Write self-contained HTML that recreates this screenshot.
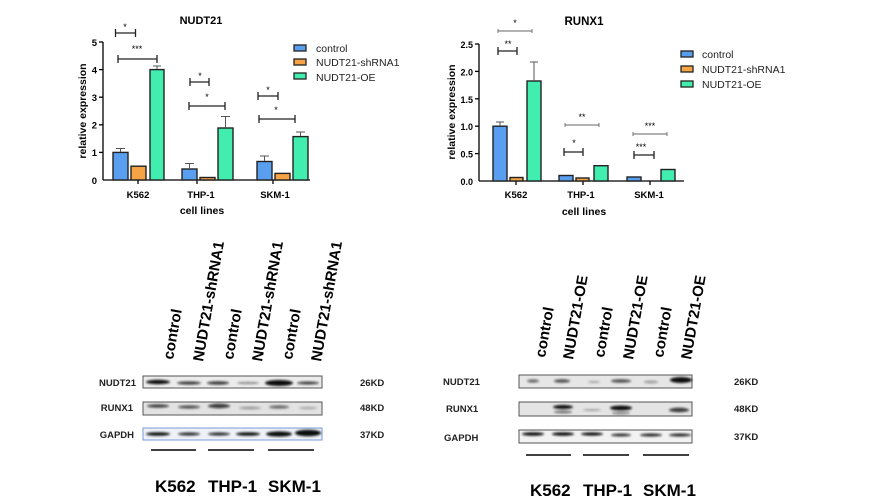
<!DOCTYPE html>
<html><head><meta charset="utf-8"><style>
html,body{margin:0;padding:0;background:#fff;width:872px;height:501px;overflow:hidden}
svg{display:block;font-family:"Liberation Sans",Arial,sans-serif}
</style></head><body>
<svg width="872" height="501" viewBox="0 0 872 501">
<defs>
<filter id="bl"><feGaussianBlur stdDeviation="1.1"/></filter>
</defs>
<!-- ===== Left chart NUDT21 ===== -->
<g font-weight="bold" fill="#000">
<text x="201" y="24" font-size="11" text-anchor="middle">NUDT21</text>
<g stroke="#000" stroke-width="1.3" fill="none">
<line x1="103" y1="42" x2="103" y2="180"/><line x1="103" y1="180" x2="310" y2="180"/>
<line x1="99" y1="42" x2="103" y2="42"/><line x1="99" y1="69.6" x2="103" y2="69.6"/><line x1="99" y1="97.2" x2="103" y2="97.2"/><line x1="99" y1="124.8" x2="103" y2="124.8"/><line x1="99" y1="152.4" x2="103" y2="152.4"/>
<line x1="138" y1="180" x2="138" y2="184"/><line x1="197" y1="180" x2="197" y2="184"/><line x1="273" y1="180" x2="273" y2="184"/>
</g>
<g font-size="9.5" text-anchor="end"><text x="97" y="46">5</text><text x="97" y="73.5">4</text><text x="97" y="101">3</text><text x="97" y="128.5">2</text><text x="97" y="156">1</text><text x="97" y="184">0</text></g>
<g font-size="9.5" text-anchor="middle"><text x="138" y="198">K562</text><text x="201" y="198">THP-1</text><text x="275" y="198">SKM-1</text>
<text x="202" y="214" font-size="10.5">cell lines</text></g>
<text transform="translate(86,111) rotate(-90)" font-size="10.5" text-anchor="middle">relative expression</text>
</g>
<!-- bars left -->
<g stroke="#222" stroke-width="1.4">
<rect x="113" y="152.4" width="15" height="27.6" fill="#5a9ef0"/>
<rect x="131" y="166.2" width="15" height="13.8" fill="#f5a345"/>
<rect x="150" y="69.6" width="14" height="110.4" fill="#41eeb0"/>
<rect x="182" y="169" width="15" height="11" fill="#5a9ef0"/>
<rect x="200" y="177.5" width="15" height="2.5" fill="#f5a345"/>
<rect x="218" y="128" width="15" height="52" fill="#41eeb0"/>
<rect x="257" y="161.5" width="15" height="18.5" fill="#5a9ef0"/>
<rect x="275" y="173.4" width="15" height="6.6" fill="#f5a345"/>
<rect x="293" y="136.6" width="15" height="43.4" fill="#41eeb0"/>
</g>
<g stroke="#555" stroke-width="1" fill="none">
<path d="M120.5 152v-3.5M116 148.5h9M157 69v-3M153 66h8M189.5 169v-5.5M185 163.5h9M225.5 128v-11.5M221 116.5h9M264.5 161v-5M260 156h9M300.5 136v-4M296 132h9"/>
</g>
<g stroke="#222" stroke-width="1.3" fill="none">
<path d="M115.5 33h20M115.5 29v8M135.5 29v8M118 59h39M118 55v8M157 55v8M190 82h19M190 78v8M209 78v8M189 106h36M189 102v8M225 102v8M258 96h20M258 92v8M278 92v8M259 119h36M259 115v8M295 115v8"/>
</g>
<g font-size="9" fill="#000" text-anchor="middle"><text x="125" y="30">*</text><text x="137" y="52">***</text><text x="200" y="79">*</text><text x="207" y="100">*</text><text x="268" y="93">*</text><text x="276" y="113">*</text></g>
<!-- legend left -->
<g stroke="#222" stroke-width="1.3"><rect x="294" y="45" width="12" height="6" fill="#5a9ef0"/><rect x="294" y="59" width="12" height="6" fill="#f5a345"/><rect x="294" y="73" width="12" height="6" fill="#41eeb0"/></g>
<g font-size="10.5" fill="#222"><text x="316" y="52">control</text><text x="316" y="66">NUDT21-shRNA1</text><text x="316" y="81">NUDT21-OE</text></g>

<!-- ===== Right chart RUNX1 ===== -->
<g font-weight="bold" fill="#000">
<text x="584" y="25" font-size="11.5" text-anchor="middle">RUNX1</text>
<g stroke="#000" stroke-width="1.3" fill="none">
<line x1="479" y1="44" x2="479" y2="181"/><line x1="479" y1="181" x2="684" y2="181"/>
<line x1="475" y1="44" x2="479" y2="44"/><line x1="475" y1="71.4" x2="479" y2="71.4"/><line x1="475" y1="98.8" x2="479" y2="98.8"/><line x1="475" y1="126.2" x2="479" y2="126.2"/><line x1="475" y1="153.6" x2="479" y2="153.6"/>
<line x1="516" y1="181" x2="516" y2="185"/><line x1="583" y1="181" x2="583" y2="185"/><line x1="650" y1="181" x2="650" y2="185"/>
</g>
<g font-size="9" text-anchor="end"><text x="473" y="48">2.5</text><text x="473" y="75.5">2.0</text><text x="473" y="103">1.5</text><text x="473" y="130">1.0</text><text x="473" y="157.5">0.5</text><text x="473" y="185">0.0</text></g>
<g font-size="9.5" text-anchor="middle"><text x="516" y="198">K562</text><text x="581" y="198">THP-1</text><text x="649" y="198">SKM-1</text>
<text x="584" y="215" font-size="10.5">cell lines</text></g>
<text transform="translate(455,112) rotate(-90)" font-size="10.5" text-anchor="middle">relative expression</text>
</g>
<g stroke="#222" stroke-width="1.4">
<rect x="493" y="126.2" width="14" height="54.8" fill="#5a9ef0"/>
<rect x="510" y="177.5" width="13" height="3.5" fill="#f5a345"/>
<rect x="527" y="81" width="14" height="100" fill="#41eeb0"/>
<rect x="559" y="175.5" width="14" height="5.5" fill="#5a9ef0"/>
<rect x="576" y="178" width="13" height="3" fill="#f5a345"/>
<rect x="594" y="165.7" width="14" height="15.3" fill="#41eeb0"/>
<rect x="627" y="177" width="14" height="4" fill="#5a9ef0"/>
<rect x="661" y="169.5" width="14" height="11.5" fill="#41eeb0"/>
</g>
<g stroke="#555" stroke-width="1" fill="none"><path d="M500 126v-4M496 122h8M534 81v-19M530 62h8"/></g>
<g stroke="#222" stroke-width="1.3" fill="none">
<path d="M498 51h19M498 47v8M517 47v8M564 152h19M564 148v8M583 148v8M634 155h20M634 151v8M654 151v8"/>
</g>
<g stroke="#666" stroke-width="0.9" fill="none">
<path d="M498 31h34M498 29v4M532 29v4M565 125h34M565 123v4M599 123v4M633 134h34M633 132v4M667 132v4"/>
</g>
<g font-size="9" fill="#000" text-anchor="middle"><text x="515" y="26">*</text><text x="508" y="47">**</text><text x="582" y="120">**</text><text x="574" y="146">*</text><text x="650" y="129">***</text><text x="641" y="150">***</text></g>
<g stroke="#222" stroke-width="1.3"><rect x="681" y="51" width="12" height="6" fill="#5a9ef0"/><rect x="681" y="66" width="12" height="6" fill="#f5a345"/><rect x="681" y="81" width="12" height="6" fill="#41eeb0"/></g>
<g font-size="10.5" fill="#222"><text x="702" y="58">control</text><text x="702" y="73">NUDT21-shRNA1</text><text x="702" y="88">NUDT21-OE</text></g>

<!-- ===== Left blot ===== -->
<g font-weight="bold" font-size="15" fill="#000">
<text transform="translate(173,360) rotate(-80)">control</text>
<text transform="translate(203,362) rotate(-80)">NUDT21-shRNA1</text>
<text transform="translate(233,360) rotate(-80)">control</text>
<text transform="translate(262,362) rotate(-80)">NUDT21-shRNA1</text>
<text transform="translate(292,360) rotate(-80)">control</text>
<text transform="translate(321,362) rotate(-80)">NUDT21-shRNA1</text>
</g>
<g font-weight="bold" font-size="9.5" fill="#222">
<text x="136" y="386" text-anchor="end">NUDT21</text><text x="133" y="411" text-anchor="end">RUNX1</text><text x="134" y="438" text-anchor="end">GAPDH</text>
<text x="360" y="386">26KD</text><text x="360" y="411">48KD</text><text x="360" y="438">37KD</text>
</g>
<rect x="143" y="376" width="179" height="12" fill="#ececec" stroke="#555"/>
<rect x="143" y="402" width="179" height="13" fill="#e2e2e2" stroke="#555"/>
<rect x="143" y="428" width="179" height="12" fill="#eef2f8" stroke="#7a9ad8"/>
<g filter="url(#bl)" fill="#111">
<ellipse cx="158" cy="382" rx="12" ry="2.2"/><ellipse cx="189" cy="383" rx="12" ry="1.6" opacity=".8"/><ellipse cx="218" cy="383" rx="11" ry="1.7" opacity=".8"/><ellipse cx="248" cy="383" rx="11" ry="1" opacity=".5"/><ellipse cx="279" cy="383" rx="14" ry="3"/><ellipse cx="308" cy="383" rx="11" ry="1.5" opacity=".8"/>
<ellipse cx="158" cy="406" rx="11" ry="1.6" opacity=".8"/><ellipse cx="189" cy="407" rx="11" ry="1.6" opacity=".7"/><ellipse cx="219" cy="406" rx="11" ry="2.2" opacity=".8"/><ellipse cx="250" cy="408" rx="11" ry="1.5" opacity=".3"/><ellipse cx="279" cy="407" rx="10" ry="1.6" opacity=".6"/><ellipse cx="308" cy="408" rx="9" ry="1" opacity=".3"/>
<ellipse cx="158" cy="434" rx="12" ry="1.8"/><ellipse cx="189" cy="434" rx="11" ry="1.6" opacity=".85"/><ellipse cx="219" cy="434" rx="11" ry="1.6" opacity=".85"/><ellipse cx="248" cy="434" rx="12" ry="1.8"/><ellipse cx="279" cy="434" rx="13" ry="2.6"/><ellipse cx="308" cy="433" rx="13" ry="3.3"/>
</g>
<g stroke="#000" stroke-width="1.6"><line x1="151" y1="450" x2="196" y2="450"/><line x1="208" y1="450" x2="254" y2="450"/><line x1="268" y1="450" x2="314" y2="450"/></g>
<g font-weight="bold" font-size="17" fill="#000"><text x="155" y="492">K562</text><text x="208" y="492">THP-1</text><text x="268" y="492">SKM-1</text></g>

<!-- ===== Right blot ===== -->
<g font-weight="bold" font-size="15" fill="#000">
<text transform="translate(545,358) rotate(-80)">control</text>
<text transform="translate(573,360) rotate(-80)">NUDT21-OE</text>
<text transform="translate(604,358) rotate(-80)">control</text>
<text transform="translate(633,360) rotate(-80)">NUDT21-OE</text>
<text transform="translate(663,358) rotate(-80)">control</text>
<text transform="translate(691,360) rotate(-80)">NUDT21-OE</text>
</g>
<g font-weight="bold" font-size="9.5" fill="#222">
<text x="443" y="385">NUDT21</text><text x="446" y="412">RUNX1</text><text x="444" y="441">GAPDH</text>
<text x="734" y="385">26KD</text><text x="734" y="412">48KD</text><text x="734" y="440">37KD</text>
</g>
<rect x="519" y="375" width="173" height="13" fill="#e6e6e6" stroke="#555"/>
<rect x="519" y="402" width="173" height="14" fill="#e4e4e4" stroke="#555"/>
<rect x="519" y="430" width="173" height="13" fill="#f2f2f2" stroke="#555"/>
<g filter="url(#bl)" fill="#111">
<ellipse cx="533" cy="381" rx="6" ry="1.6" opacity=".6"/><ellipse cx="562" cy="381" rx="8" ry="1.8" opacity=".7"/><ellipse cx="594" cy="382" rx="6" ry="1" opacity=".3"/><ellipse cx="621" cy="381" rx="10" ry="1.8" opacity=".7"/><ellipse cx="651" cy="382" rx="7" ry="1.2" opacity=".4"/><ellipse cx="681" cy="380" rx="11" ry="3"/>
<ellipse cx="563" cy="407" rx="10" ry="2"/><ellipse cx="563" cy="412" rx="9" ry="1.3" opacity=".6"/><ellipse cx="592" cy="410" rx="9" ry="1" opacity=".3"/><ellipse cx="621" cy="408" rx="11" ry="2.4"/><ellipse cx="621" cy="413" rx="9" ry="1.3" opacity=".5"/><ellipse cx="679" cy="410" rx="10" ry="2.2" opacity=".8"/>
<ellipse cx="533" cy="434" rx="11" ry="1.7"/><ellipse cx="563" cy="434" rx="11" ry="1.8"/><ellipse cx="592" cy="434" rx="11" ry="1.6"/><ellipse cx="621" cy="435" rx="10" ry="1.5" opacity=".85"/><ellipse cx="651" cy="435" rx="11" ry="1.5" opacity=".9"/><ellipse cx="680" cy="435" rx="11" ry="1.5" opacity=".9"/>
</g>
<g stroke="#000" stroke-width="1.6"><line x1="526" y1="455" x2="571" y2="455"/><line x1="583" y1="455" x2="629" y2="455"/><line x1="643" y1="455" x2="689" y2="455"/></g>
<g font-weight="bold" font-size="17" fill="#000"><text x="530" y="496">K562</text><text x="583" y="496">THP-1</text><text x="643" y="496">SKM-1</text></g>
</svg>
</body></html>
